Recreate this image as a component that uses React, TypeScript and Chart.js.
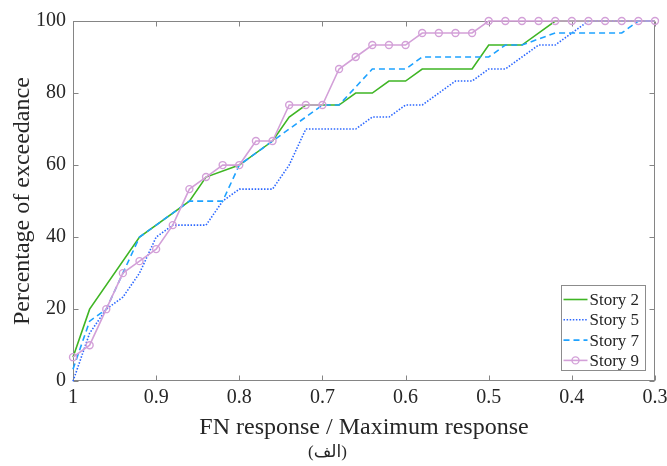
import React, { useEffect, useRef } from 'react';
import { Chart, registerables } from 'chart.js';

Chart.register(...registerables);

// ---- Data ----
const xTicks = [1, 0.9, 0.8, 0.7, 0.6, 0.5, 0.4, 0.3];
const xTickLabels = ['1', '0.9', '0.8', '0.7', '0.6', '0.5', '0.4', '0.3'];
const yTicks = [0, 20, 40, 60, 80, 100];

const story2X = [1, 0.98, 0.92, 0.86, 0.84, 0.8, 0.76, 0.74, 0.72, 0.68, 0.66, 0.64, 0.62, 0.6, 0.58, 0.52, 0.5, 0.46, 0.42, 0.3];
const story2Y = [6.67, 20, 40, 50, 56.67, 60, 66.67, 73.33, 76.67, 76.67, 80, 80, 83.33, 83.33, 86.67, 86.67, 93.33, 93.33, 100, 100];

const story5X = [1, 0.98, 0.96, 0.94, 0.92, 0.9, 0.88, 0.84, 0.82, 0.8, 0.76, 0.74, 0.72, 0.66, 0.64, 0.62, 0.6, 0.58, 0.56, 0.54, 0.52, 0.5, 0.48, 0.46, 0.44, 0.42, 0.4, 0.38, 0.3];
const story5Y = [0, 13.33, 20, 23.33, 30, 40, 43.33, 43.33, 50, 53.33, 53.33, 60, 70, 70, 73.33, 73.33, 76.67, 76.67, 80, 83.33, 83.33, 86.67, 86.67, 90, 93.33, 93.33, 96.67, 100, 100];

const story7X = [1, 0.98, 0.96, 0.94, 0.92, 0.86, 0.82, 0.8, 0.76, 0.74, 0.72, 0.7, 0.68, 0.64, 0.6, 0.58, 0.5, 0.48, 0.46, 0.42, 0.34, 0.32, 0.3];
const story7Y = [3.33, 16.67, 20, 30, 40, 50, 50, 60, 66.67, 70, 73.33, 76.67, 76.67, 86.67, 86.67, 90, 90, 93.33, 93.33, 96.67, 96.67, 100, 100];

const story9X = [1, 0.98, 0.96, 0.94, 0.92, 0.9, 0.88, 0.86, 0.84, 0.82, 0.8, 0.78, 0.76, 0.74, 0.72, 0.7, 0.68, 0.66, 0.64, 0.62, 0.6, 0.58, 0.56, 0.54, 0.52, 0.5, 0.48, 0.46, 0.44, 0.42, 0.4, 0.38, 0.36, 0.34, 0.32, 0.3];
const story9Y = [6.67, 10, 20, 30, 33.33, 36.67, 43.33, 53.33, 56.67, 60, 60, 66.67, 66.67, 76.67, 76.67, 76.67, 86.67, 90, 93.33, 93.33, 93.33, 96.67, 96.67, 96.67, 96.67, 100, 100, 100, 100, 100, 100, 100, 100, 100, 100, 100];

const seriesLabels = ['Story 2', 'Story 5', 'Story 7', 'Story 9'];

const SERIF = "'Liberation Serif', 'Times New Roman', serif";
const TEXT = '#262626';
const AXIS = '#858585';

const pts = (xs: number[], ys: number[]) => xs.map((x, i) => ({ x, y: ys[i] }));

const framePlugin = {
  id: 'frameTicks',
  beforeDatasetsDraw(chart: any) {
    const { ctx, chartArea: a, scales } = chart;
    const L = Math.round(a.left) + 0.5, R = Math.round(a.right) - 0.5;
    const T = Math.round(a.top) + 0.5, B = Math.round(a.bottom) - 0.5;
    ctx.save();
    ctx.strokeStyle = AXIS;
    ctx.lineWidth = 1;
    ctx.strokeRect(L, T, R - L, B - T);
    const len = 5;
    ctx.beginPath();
    xTicks.forEach((v) => {
      const p = Math.round(scales.x.getPixelForValue(v)) + 0.5;
      ctx.moveTo(p, B); ctx.lineTo(p, B - len);
      ctx.moveTo(p, T); ctx.lineTo(p, T + len);
    });
    yTicks.forEach((v) => {
      const p = Math.round(scales.y.getPixelForValue(v)) + 0.5;
      ctx.moveTo(L, p); ctx.lineTo(L + len, p);
      ctx.moveTo(R, p); ctx.lineTo(R - len, p);
    });
    ctx.stroke();
    ctx.restore();
  },
};

const legendPlugin = {
  id: 'boxLegend',
  afterDraw(chart: any) {
    const { ctx, chartArea: a } = chart;
    const bx = Math.round(a.right) - 94 + 0.5;
    const by = Math.round(a.bottom) - 96 + 0.5;
    const bw = 84, bh = 85;
    ctx.save();
    ctx.fillStyle = '#ffffff';
    ctx.fillRect(bx, by, bw, bh);
    ctx.strokeStyle = '#8c8c8c';
    ctx.lineWidth = 1;
    ctx.strokeRect(bx, by, bw, bh);
    chart.data.datasets.forEach((ds: any, i: number) => {
      const y = by + 14 + i * 20.3;
      ctx.save();
      ctx.strokeStyle = ds.borderColor;
      ctx.lineWidth = ds.borderWidth;
      ctx.setLineDash(ds.borderDash || []);
      ctx.beginPath();
      ctx.moveTo(bx + 2, y);
      ctx.lineTo(bx + 26, y);
      ctx.stroke();
      ctx.setLineDash([]);
      if (ds.pointRadius > 0) {
        ctx.beginPath();
        ctx.lineWidth = ds.pointBorderWidth;
        ctx.arc(bx + 14, y, ds.pointRadius, 0, Math.PI * 2);
        ctx.stroke();
      }
      ctx.restore();
      ctx.fillStyle = TEXT;
      ctx.font = `17px ${SERIF}`;
      ctx.textBaseline = 'middle';
      ctx.textAlign = 'left';
      ctx.fillText(ds.label, bx + 28, y + 1);
    });
    ctx.restore();
  },
};

export default function App() {
  const ref = useRef<HTMLCanvasElement | null>(null);

  useEffect(() => {
    if (!ref.current) return;
    const chart = new Chart(ref.current, {
      type: 'line',
      data: {
        datasets: [
          {
            label: seriesLabels[0],
            data: pts(story2X, story2Y),
            borderColor: '#3fb524',
            borderWidth: 1.6,
            pointRadius: 0,
            order: 4,
            clip: false,
          } as any,
          {
            label: seriesLabels[1],
            data: pts(story5X, story5Y),
            borderColor: '#2d68ff',
            borderWidth: 1.6,
            borderDash: [1.5, 1.6],
            pointRadius: 0,
            order: 3,
            clip: false,
          },
          {
            label: seriesLabels[2],
            data: pts(story7X, story7Y),
            borderColor: '#1ea2ff',
            borderWidth: 1.6,
            borderDash: [6, 4],
            pointRadius: 0,
            order: 2,
            clip: false,
          },
          {
            label: seriesLabels[3],
            data: pts(story9X, story9Y),
            borderColor: '#d3a0d8',
            borderWidth: 1.6,
            pointRadius: 3.5,
            pointBorderWidth: 1.4,
            pointBorderColor: '#d3a0d8',
            pointBackgroundColor: 'rgba(0,0,0,0)',
            order: 1,
            clip: false,
          },
        ],
      },
      options: {
        responsive: false,
        animation: false,
        events: [],
        layout: { padding: { top: 21, right: 12, left: 0, bottom: 0 } },
        plugins: {
          legend: { display: false },
          tooltip: { enabled: false },
          title: {
            display: true,
            position: 'bottom',
            text: '(الف)',
            color: TEXT,
            font: { family: "'Liberation Serif', 'DejaVu Sans', serif", size: 17, weight: 'normal' },
            padding: { top: 0, bottom: 3 },
          },
        },
        scales: {
          x: {
            type: 'linear',
            reverse: true,
            min: 0.3,
            max: 1,
            grid: { display: false, drawTicks: false, tickLength: 0 },
            border: { display: false },
            afterBuildTicks: (s: any) => {
              s.ticks = xTicks.map((v) => ({ value: v }));
            },
            afterFit: (s: any) => {
              s.height = 61.4;
              s.paddingLeft = 0;
              s.paddingRight = 0;
            },
            ticks: {
              autoSkip: false,
              maxRotation: 0,
              padding: 5,
              color: TEXT,
              font: { family: SERIF, size: 20 },
              callback: (_v: any, i: number) => xTickLabels[i],
            },
            title: {
              display: true,
              text: 'FN response / Maximum response',
              color: TEXT,
              font: { family: SERIF, size: 24 },
              padding: { top: 0, bottom: 0 },
            },
          },
          y: {
            type: 'linear',
            min: 0,
            max: 100,
            grid: { display: false, drawTicks: false, tickLength: 0 },
            border: { display: false },
            afterBuildTicks: (s: any) => {
              s.ticks = yTicks.map((v) => ({ value: v }));
            },
            afterFit: (s: any) => {
              s.width = 73;
              s.paddingTop = 0;
              s.paddingBottom = 0;
            },
            ticks: {
              padding: 7,
              color: TEXT,
              font: { family: SERIF, size: 20 },
              callback: (v: any) => String(v),
            },
            title: {
              display: true,
              text: 'Percentage of exceedance',
              color: TEXT,
              font: { family: SERIF, size: 24 },
              padding: { top: 8, bottom: 0 },
            },
          },
        },
      },
      plugins: [framePlugin, legendPlugin],
    } as any);
    return () => chart.destroy();
  }, []);

  return (
    <div style={{ position: 'absolute', left: 0, top: 0, width: 667, height: 466, background: '#fff' }}>
      <canvas ref={ref} width={667} height={466} style={{ display: 'block', width: 667, height: 466 }} />
    </div>
  );
}
